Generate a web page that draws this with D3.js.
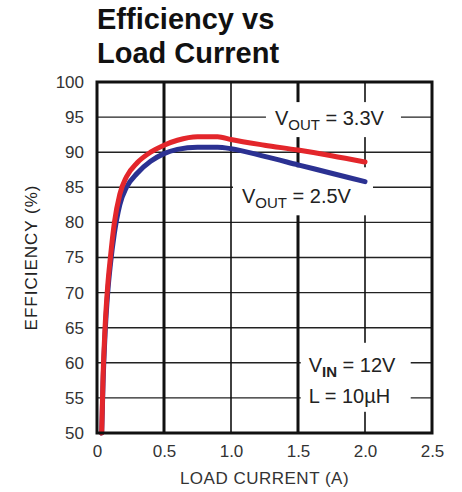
<!DOCTYPE html>
<html>
<head>
<meta charset="utf-8">
<script src="https://cdn.jsdelivr.net/npm/d3@7/dist/d3.min.js"></script>
<style>
  html, body { margin: 0; padding: 0; background: #fff; }
  #chart { width: 462px; height: 492px; }
  text { font-family: "Liberation Sans", Arial, sans-serif; }
</style>
</head>
<body>
<div id="chart"></div>
<script>
// Efficiency vs load current
const loadCurrent = [0.035, 0.045, 0.06, 0.08, 0.1, 0.13, 0.17, 0.22, 0.3, 0.4, 0.5, 0.6, 0.75, 0.9, 1.0, 1.25, 1.5, 1.75, 2.0];
const eff33 = [50, 58, 65, 71, 75, 80, 84, 86.5, 88.5, 90, 91.0, 91.7, 92.2, 92.2, 91.8, 91.0, 90.3, 89.5, 88.6];
const eff25 = [50, 57, 64, 70, 74, 78.5, 82.5, 85, 87, 88.7, 89.8, 90.4, 90.7, 90.7, 90.5, 89.4, 88.2, 87.0, 85.8];

const xTicks = [0, 0.5, 1.0, 1.5, 2.0, 2.5];
const xTickLabels = ['0', '0.5', '1.0', '1.5', '2.0', '2.5'];
const yTicks = [50, 55, 60, 65, 70, 75, 80, 85, 90, 95, 100];

const W = 462, H = 492;
const margin = { top: 82, right: 30, bottom: 59, left: 97 };
const width = 432 - margin.left;
const height = 433 - margin.top;

const svg = d3.select('#chart').append('svg')
    .attr('width', W)
    .attr('height', H);

// Title
const title = svg.append('text')
    .style('font-size', '29px')
    .style('font-weight', 'bold')
    .style('fill', '#111');
title.append('tspan').attr('x', 97).attr('y', 29).text('Efficiency vs');
title.append('tspan').attr('x', 97).attr('y', 63).text('Load Current');

const g = svg.append('g')
    .attr('transform', `translate(${margin.left},${margin.top})`);

const x = d3.scaleLinear().domain([0, 2.5]).range([0, width]);
const y = d3.scaleLinear().domain([50, 100]).range([height, 0]);

// Grid lines
g.selectAll('.hgrid')
    .data(yTicks.slice(1, -1))
    .enter().append('line')
    .attr('class', 'hgrid')
    .attr('x1', 0).attr('x2', width)
    .attr('y1', d => y(d)).attr('y2', d => y(d))
    .attr('stroke', '#222')
    .attr('stroke-width', 1.4);

g.selectAll('.vgrid')
    .data(xTicks.slice(1, -1))
    .enter().append('line')
    .attr('class', 'vgrid')
    .attr('x1', d => x(d)).attr('x2', d => x(d))
    .attr('y1', 0).attr('y2', height)
    .attr('stroke', '#111')
    .attr('stroke-width', (d, i) => i % 2 === 0 ? 3 : 1.6);

// Label boxes sit between grid and curves
const bgLayer = g.append('g');
const curveLayer = g.append('g');
const textLayer = g.append('g');

// Curves
const line = d3.line()
    .x(d => x(d[0]))
    .y(d => y(d[1]))
    .curve(d3.curveMonotoneX);

const series = [
    { name: '2.5V', values: eff25, color: '#2b3192' },
    { name: '3.3V', values: eff33, color: '#e3262b' }
];

curveLayer.selectAll('.curve')
    .data(series)
    .enter().append('path')
    .attr('class', 'curve')
    .attr('d', d => line(loadCurrent.map((c, i) => [c, d.values[i]])))
    .attr('fill', 'none')
    .attr('stroke', d => d.color)
    .attr('stroke-width', 5)
    .attr('stroke-linecap', 'round')
    .attr('stroke-linejoin', 'round');

// boxTop/boxBottom and baseline are offsets from the grid line at yv
function label(xv, yv, sub, value, baseline, boxW, boxTop, boxBottom) {
    bgLayer.append('rect')
        .attr('x', x(xv) - 9).attr('y', y(yv) + boxTop)
        .attr('width', boxW).attr('height', boxBottom - boxTop)
        .attr('fill', '#fff');
    const t = textLayer.append('text')
        .attr('x', x(xv))
        .attr('y', y(yv) + baseline)
        .style('font-size', '20px')
        .style('fill', '#222');
    t.append('tspan').text('V');
    t.append('tspan').attr('dy', 5).style('font-size', '15px').text(sub);
    t.append('tspan').attr('dy', -5).text(' = ' + value);
}

label(1.328, 95, 'OUT', '3.3V', 8, 135, -15, 20);
label(1.082, 85, 'OUT', '2.5V', 16, 140, -20, 28);

// Operating conditions
bgLayer.append('rect')
    .attr('x', x(1.58) - 8).attr('y', y(60) - 20)
    .attr('width', 110).attr('height', 69)
    .attr('fill', '#fff');
const c1 = textLayer.append('text')
    .attr('x', x(1.58))
    .attr('y', y(60) + 9)
    .style('font-size', '20px')
    .style('fill', '#222');
c1.append('tspan').text('V');
c1.append('tspan').attr('dy', 5).style('font-size', '15px').style('font-weight', 'bold').text('IN');
c1.append('tspan').attr('dy', -5).text(' = 12V');
textLayer.append('text')
    .attr('x', x(1.58))
    .attr('y', y(55) + 5)
    .style('font-size', '20px')
    .style('fill', '#222')
    .text('L = 10\u00b5H');

// Frame
g.append('rect')
    .attr('width', width)
    .attr('height', height)
    .attr('fill', 'none')
    .attr('stroke', '#111')
    .attr('stroke-width', 3);

// Axes (labels only)
const xAxis = d3.axisBottom(x)
    .tickValues(xTicks)
    .tickFormat((d, i) => xTickLabels[i])
    .tickSize(0)
    .tickPadding(12);

const yAxis = d3.axisLeft(y)
    .tickValues(yTicks)
    .tickSize(0)
    .tickPadding(13);

const gx = g.append('g')
    .attr('transform', `translate(0,${height})`)
    .call(xAxis);
const gy = g.append('g').call(yAxis);

[gx, gy].forEach(a => {
    a.select('.domain').remove();
    a.selectAll('text')
        .style('font-size', '17px')
        .style('font-family', '"Liberation Sans", Arial, sans-serif')
        .style('fill', '#333');
});

// Axis titles
svg.append('text')
    .attr('x', margin.left + width / 2)
    .attr('y', 484)
    .attr('text-anchor', 'middle')
    .style('font-size', '17px')
    .style('letter-spacing', '0.5px')
    .style('fill', '#333')
    .text('LOAD CURRENT (A)');

svg.append('text')
    .attr('transform', `translate(37,${margin.top + height / 2}) rotate(-90)`)
    .attr('text-anchor', 'middle')
    .style('font-size', '17px')
    .style('letter-spacing', '1px')
    .style('fill', '#222')
    .text('EFFICIENCY (%)');
</script>
</body>
</html>
